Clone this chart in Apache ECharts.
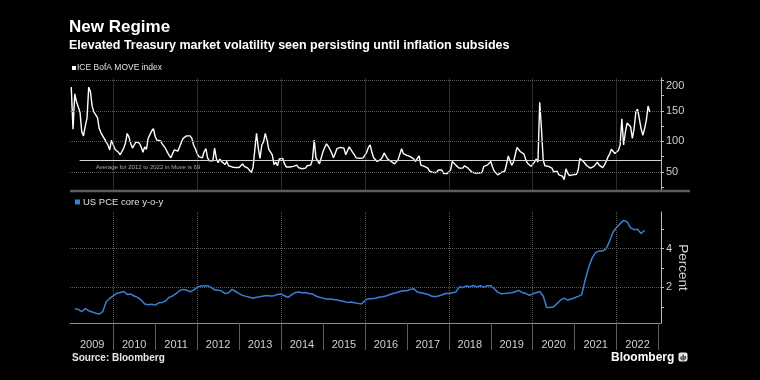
<!DOCTYPE html>
<html>
<head>
<meta charset="utf-8">
<script src="https://cdn.jsdelivr.net/npm/echarts@6/dist/echarts.min.js"></script>
<style>
html,body{margin:0;padding:0;background:#000;}
#chart{width:760px;height:380px;}
</style>
</head>
<body>
<div id="chart"></div>
<script>
// ---- data ----
const yearTicks = [2010,2011,2012,2013,2014,2015,2016,2017,2018,2019,2020,2021,2022,2023];
const yearLabels = [2009,2010,2011,2012,2013,2014,2015,2016,2017,2018,2019,2020,2021,2022];
const gridYears = [2010,2012,2014,2016,2018,2020,2022];
const moveTicks = [25,50,75,100,125,150,175,200];
const moveLabels = [50,100,150,200];
const pceTicks = [1,2,3,4,5];
const pceLabels = [2,4];
const moveAverage = 69;
const moveName = 'ICE BofA MOVE index';
const pceName = 'US PCE core y-o-y';

// ICE BofA MOVE index, semi-monthly readings from Jan 2009
const moveValues = [
  189,120,178,165,167,148,116,109,125,138,189,181,
  157,148,151,139,121,114,113,104,106,94,86,102,
  102,87,88,82,78,76,89,97,113,107,97,89,
  90,99,96,97,91,82,91,87,105,111,117,121,
  108,102,99,101,96,96,88,82,77,73,80,86,
  88,84,91,94,105,107,109,112,109,105,94,88,
  80,75,77,73,83,88,73,68,69,68,89,72,
  65,71,67,70,62,67,60,62,58,59,57,57,
  57,60,63,59,61,56,53,49,57,86,113,89,
  72,94,99,113,102,87,86,78,62,66,60,71,
  71,72,63,58,59,58,60,59,56,61,57,58,
  55,53,56,60,60,61,70,102,73,72,63,64,
  83,90,96,92,87,81,73,80,88,85,90,87,
  89,78,77,91,90,82,78,73,76,72,70,73,
  71,82,90,94,82,73,71,67,70,70,74,81,
  76,71,74,67,69,63,61,70,79,88,80,78,
  77,76,75,74,71,67,72,76,61,58,59,56,
  56,51,49,49,52,49,53,55,53,47,46,47,
  47,53,67,67,61,59,56,53,56,60,60,56,
  53,50,49,48,48,48,48,49,59,58,61,59,
  67,58,51,48,45,44,49,48,51,62,76,77,
  61,66,78,90,90,83,81,79,70,64,61,59,
  57,66,71,66,164,121,69,60,62,59,60,56,
  50,48,51,45,42,43,37,55,48,44,46,45,
  48,46,53,72,74,67,64,60,57,56,55,59,
  61,66,61,59,57,61,67,74,79,87,84,80,
  82,85,94,137,94,115,130,131,124,105,121,148,
  153,137,121,110,121,135,158,148
];

// US PCE core y-o-y, monthly readings from Feb 2009
const pceValues = [
  0.92,0.87,0.75,0.92,0.80,0.74,0.67,0.63,0.75,1.26,1.44,1.56,
  1.69,1.74,1.79,1.64,1.66,1.56,1.49,1.35,1.15,1.11,1.13,1.09,
  1.21,1.23,1.30,1.49,1.56,1.68,1.83,1.90,1.86,1.78,1.86,2.00,
  2.07,2.07,2.09,2.00,1.88,1.86,1.81,1.68,1.73,1.90,1.79,1.68,
  1.59,1.54,1.50,1.44,1.49,1.52,1.56,1.59,1.56,1.57,1.64,1.66,
  1.57,1.49,1.62,1.73,1.76,1.73,1.74,1.69,1.66,1.56,1.49,1.45,
  1.40,1.40,1.38,1.35,1.32,1.28,1.23,1.25,1.21,1.18,1.15,1.32,
  1.42,1.42,1.44,1.49,1.52,1.56,1.62,1.69,1.73,1.79,1.83,1.83,
  1.90,1.93,1.76,1.73,1.69,1.64,1.56,1.52,1.56,1.61,1.69,1.69,
  1.73,1.76,2.03,2.00,2.07,2.03,2.10,2.03,2.09,2.00,2.09,2.09,
  1.93,1.76,1.68,1.69,1.71,1.73,1.78,1.85,1.74,1.69,1.59,1.66,
  1.73,1.79,1.56,0.97,0.97,1.01,1.18,1.35,1.45,1.35,1.40,1.47,
  1.54,1.62,2.38,3.03,3.52,3.79,3.88,3.88,3.98,4.39,4.85,5.08,
  5.28,5.45,5.37,5.06,4.97,4.99,4.77,4.94
];

// ---- build ----
const moveData = moveValues.map((v, i) => [2009 + i / 24, v]);
const pceData = pceValues.map((v, i) => [2009 + (i + 1) / 12, v]);
const labelPos = yearLabels.map(y => y + 0.5);

const xMin = 2008.97, xMax = 2023.058;
const FONT = '"Liberation Sans", Arial, sans-serif';
const gridDot = {color: '#595959', type: 'dotted', width: 1};

const chart = echarts.init(document.getElementById('chart'), null, {renderer: 'canvas'});

chart.setOption({
  backgroundColor: '#000',
  animation: false,
  textStyle: {fontFamily: FONT},
  title: [
    {text: 'New Regime', left: 69, top: 19, padding: 0,
     textStyle: {color: '#fff', fontSize: 17, fontWeight: 'bold', fontFamily: FONT}},
    {text: 'Elevated Treasury market volatility seen persisting until inflation subsides', left: 69, top: 39, padding: 0,
     textStyle: {color: '#fff', fontSize: 12.5, fontWeight: 'bold', fontFamily: FONT}},
    {text: 'Source: Bloomberg', left: 72, top: 353, padding: 0,
     textStyle: {color: '#e6e6e6', fontSize: 10, fontWeight: 'bold', fontFamily: FONT}}
  ],
  legend: [
    {data: [moveName], left: 72, top: 63.5, padding: 0, icon: 'rect', itemWidth: 4, itemHeight: 4,
     selectedMode: false,
     textStyle: {color: '#e0e0e0', fontSize: 8.5, fontFamily: FONT, padding: [0, 0, 0, -4]}},
    {data: [pceName], left: 75, top: 197, padding: 0, icon: 'rect', itemWidth: 5, itemHeight: 5,
     selectedMode: false,
     textStyle: {color: '#e0e0e0', fontSize: 9.5, fontFamily: FONT, padding: [0, 0, 0, -2]}}
  ],
  grid: [
    {left: 70, right: 99, top: 78, height: 111.5},
    {left: 70, right: 99, top: 212, height: 111}
  ],
  xAxis: [
    {gridIndex: 0, type: 'value', min: xMin, max: xMax, show: false},
    {gridIndex: 1, type: 'value', min: xMin, max: xMax,
     axisLine: {show: true, onZero: false, lineStyle: {color: '#8c8c8c', width: 1}},
     axisTick: {show: true, customValues: yearTicks, length: 27, lineStyle: {color: '#5e5e5e'}},
     axisLabel: {show: true, customValues: labelPos, formatter: v => String(Math.floor(v)),
                 color: '#d0d0d0', fontSize: 11, margin: 16, fontFamily: FONT},
     splitLine: {show: false}}
  ],
  yAxis: [
    {gridIndex: 0, type: 'value', position: 'right', min: 21, max: 204,
     axisLine: {show: true, onZero: false, lineStyle: {color: '#bdbdbd', width: 1}},
     axisTick: {show: true, customValues: moveTicks, length: 3, lineStyle: {color: '#bdbdbd'}},
     axisLabel: {show: true, customValues: moveLabels, color: '#d0d0d0', fontSize: 11, margin: 5, fontFamily: FONT,
                 verticalAlignMaxLabel: 'top'},
     splitLine: {show: false}},
    {gridIndex: 1, type: 'value', position: 'right', min: 0.17, max: 5.88,
     axisLine: {show: true, onZero: false, lineStyle: {color: '#bdbdbd', width: 1}},
     axisTick: {show: true, customValues: pceTicks, length: 3, lineStyle: {color: '#bdbdbd'}},
     axisLabel: {show: true, customValues: pceLabels, color: '#d0d0d0', fontSize: 11, margin: 5, fontFamily: FONT},
     splitLine: {show: false},
     name: 'Percent', nameLocation: 'middle', nameRotate: -90, nameGap: 15, nameMoveOverlap: false,
     nameTextStyle: {color: '#d0d0d0', fontSize: 13.5, fontFamily: FONT}}
  ],
  series: [
    {type: 'line', name: '_gridTop', xAxisIndex: 0, yAxisIndex: 0, data: [], silent: true, z: 1,
     markLine: {symbol: ['none', 'none'], silent: true, animation: false, label: {show: false},
       lineStyle: gridDot,
       data: gridYears.map(y => ({xAxis: y})).concat(moveLabels.map(v => ({yAxis: v})))}},
    {type: 'line', name: '_gridBottom', xAxisIndex: 1, yAxisIndex: 1, data: [], silent: true, z: 1,
     markLine: {symbol: ['none', 'none'], silent: true, animation: false, label: {show: false},
       lineStyle: gridDot,
       data: gridYears.map(y => ({xAxis: y})).concat(pceLabels.map(v => ({yAxis: v})))}},
    {type: 'line', name: moveName, xAxisIndex: 0, yAxisIndex: 0, data: moveData,
     symbol: 'none', showSymbol: false, z: 3,
     lineStyle: {color: '#ffffff', width: 1.4}, itemStyle: {color: '#ffffff'},
     markLine: {symbol: ['none', 'none'], silent: true, animation: false,
       lineStyle: {color: '#d4d4d4', type: 'solid', width: 1},
       label: {show: true, position: 'insideStartBottom', distance: [16, 4],
               formatter: 'Average for 2012 to 2022 in Move is ' + moveAverage,
               color: '#a8a8a8', fontSize: 6, fontFamily: FONT},
       data: [[{coord: [2009.2, moveAverage]}, {coord: [xMax, moveAverage]}]]}},
    {type: 'line', name: pceName, xAxisIndex: 1, yAxisIndex: 1, data: pceData,
     symbol: 'none', showSymbol: false, z: 3,
     lineStyle: {color: '#3b7fd4', width: 1.5}, itemStyle: {color: '#3b7fd4'}}
  ],
  graphic: [
    {type: 'rect', left: 70, top: 189.8, shape: {width: 620, height: 2.5}, style: {fill: '#5c5c5c'}, silent: true},
    {type: 'text', left: 611, top: 351.5, style: {text: 'Bloomberg', fill: '#ffffff', font: 'bold 12px "Liberation Sans", Arial'}, silent: true},
    {type: 'group', left: 678.5, top: 352.5, silent: true, children: [
      {type: 'rect', shape: {x: 0, y: 0, width: 9, height: 9, r: 2}, style: {fill: '#e8e8e8'}},
      {type: 'rect', shape: {x: 2, y: 4, width: 1.2, height: 3}, style: {fill: '#111'}},
      {type: 'rect', shape: {x: 4, y: 2, width: 1.2, height: 5}, style: {fill: '#111'}},
      {type: 'rect', shape: {x: 6, y: 3.5, width: 1.2, height: 3.5}, style: {fill: '#111'}},
      {type: 'rect', shape: {x: 3, y: 7, width: 3.2, height: 0.8}, style: {fill: '#111'}}
    ]}
  ]
});
</script>
</body>
</html>
